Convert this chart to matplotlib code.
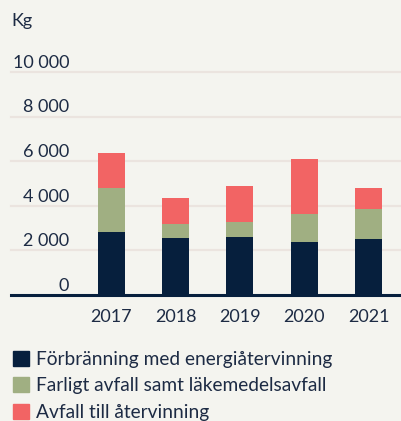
import numpy as np
import matplotlib
matplotlib.use("Agg")
import matplotlib.pyplot as plt
from matplotlib.patches import Patch

# values (kg per year)
years = ["2017", "2018", "2019", "2020", "2021"]
forbranning = [2840, 2570, 2610, 2390, 2520]
farligt = [1980, 630, 650, 1260, 1350]
atervinning = [1530, 1170, 1650, 2430, 950]
series_names = ["Förbränning med energiåtervinning",
                "Farligt avfall samt läkemedelsavfall",
                "Avfall till återvinning"]
yticks = [0, 2000, 4000, 6000, 8000, 10000]
ytick_labels = ["0", "2 000", "4 000", "6 000", "8 000", "10 000"]

bg = "#f4f4ef"
navy = "#061f3d"
green = "#a0af82"
red = "#f26464"
txt = "#1d2b44"
grid = "#ebe4df"

plt.rcParams["font.family"] = ["Lato", "DejaVu Sans"]

fig = plt.figure(figsize=(4.01, 4.21), dpi=100, facecolor=bg)
W, H = 401, 421
# axes spans x 11..401 px, y 72 (10 000) .. 295 (0) px
ax = fig.add_axes([11 / W, (H - 295) / H, 390 / W, (295 - 72) / H])
ax.set_facecolor(bg)

x = np.arange(len(years))
bw = 0.42
b1 = np.array(forbranning)
b2 = b1 + np.array(farligt)
ax.bar(x, forbranning, bw, color=navy, zorder=3)
ax.bar(x, farligt, bw, bottom=b1, color=green, zorder=3)
ax.bar(x, atervinning, bw, bottom=b2, color=red, zorder=3)

ax.set_ylim(0, 10000)
ax.set_xlim(-1.564, 4.506)

for v in yticks[1:]:
    ax.axhline(v, color=grid, lw=1.6, zorder=1, clip_on=False)
ax.axhline(0, color=navy, lw=2.2, zorder=4, clip_on=False)

for v, lab in zip(yticks, ytick_labels):
    ax.annotate(lab, xy=(0.149, v), xycoords=("axes fraction", "data"),
                xytext=(0, 3), textcoords="offset points",
                ha="right", va="baseline", fontsize=13, color=txt)

ax.set_yticks([])
ax.set_xticks(x)
ax.set_xticklabels(years, fontsize=13, color=txt)
ax.tick_params(axis="x", length=0, pad=10)
for s in ax.spines.values():
    s.set_visible(False)

fig.text(11 / W, 1 - 26 / H, "Kg", fontsize=13, color=txt, ha="left", va="baseline")

handles = [Patch(color=c) for c in (navy, green, red)]
fig.legend(handles, series_names, loc="upper left",
           bbox_to_anchor=(9 / W, 1 - 347 / H), frameon=False,
           fontsize=13.8, labelcolor=txt, handlelength=0.84, handleheight=0.84,
           handletextpad=0.36, labelspacing=0.48, borderpad=0.2, borderaxespad=0)

fig.savefig("out.png", dpi=100, facecolor=bg)
